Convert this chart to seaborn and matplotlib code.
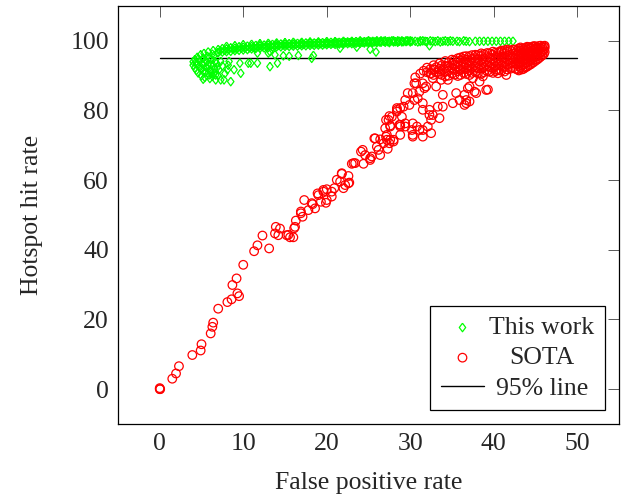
import matplotlib
matplotlib.use("Agg")
import matplotlib.pyplot as plt
import seaborn as sns
import pandas as pd

# ---------------- data ----------------
x_ticks = [0, 10, 20, 30, 40, 50]
y_ticks = [0, 20, 40, 60, 80, 100]
legend_labels = ["This work", "SOTA", "95% line"]

line_x = [0, 50]
line_y = [95, 95]

sota_low = [
    (0.0, 0.0), (0.0, 0.3), (0.05, 0.0), (1.5, 3.0), (1.95, 4.5), (2.3, 6.6),
    (3.9, 9.8), (4.9, 11.1), (5.0, 12.9), (6.1, 16.0), (6.3, 17.9), (6.4, 19.1),
    (7.0, 23.1), (8.1, 25.0), (8.6, 25.8), (9.3, 27.5), (9.5, 26.7), (8.7, 29.9),
    (9.2, 31.8), (10.0, 35.7), (11.3, 39.6), (11.7, 41.3), (12.3, 44.1), (13.1, 40.4),
    (13.9, 46.6), (14.4, 46.1), (13.8, 44.7), (14.2, 44.2), (15.2, 44.2), (15.6, 43.6),
]
sota_mid = [
    (16.0, 43.6), (15.4, 44.3), (16.1, 46.2), (16.2, 46.6), (16.3, 48.4), (17.1, 49.5),
    (16.9, 51.0), (16.9, 50.5), (17.3, 54.3), (17.8, 51.4), (18.2, 53.4), (18.3, 53.1),
    (18.6, 51.9), (18.9, 56.2), (19.0, 55.7), (19.3, 53.8), (19.6, 56.7), (19.6, 57.2),
    (19.9, 53.5), (20.0, 57.4), (20.0, 54.3), (20.6, 55.3), (20.6, 56.7), (20.9, 57.7),
    (21.2, 60.1), (21.6, 59.6), (21.8, 61.8), (21.8, 62.0), (22.0, 57.7), (22.2, 58.6),
    (22.6, 61.2), (22.6, 59.1), (22.7, 59.3), (23.0, 64.7), (23.2, 64.9), (23.4, 64.9),
    (24.1, 68.2), (24.3, 68.7), (24.4, 64.7), (24.6, 67.2), (25.2, 65.8), (25.2, 66.3),
    (25.4, 66.8), (25.7, 72.0), (25.8, 72.0), (26.2, 68.7), (26.4, 71.7), (26.4, 67.2),
    (26.8, 70.6), (27.2, 73.0), (27.2, 71.6), (27.3, 69.0), (27.5, 70.6), (28.0, 71.1),
    (28.0, 71.6), (27.1, 77.3), (27.4, 77.3), (27.5, 78.4), (27.6, 75.7), (27.8, 78.2),
    (28.4, 80.2), (28.4, 80.7), (28.7, 75.9), (28.8, 75.9),
]
sota_fan = [
    (26.0, 69.6), (27.0, 74.9), (27.1, 72.5), (27.6, 75.4), (27.6, 71.6), (28.4, 79.7),
    (28.8, 80.7), (29.0, 78.2), (28.8, 75.4), (28.8, 73.0), (29.2, 81.1), (29.4, 83.0),
    (29.4, 76.3), (29.4, 75.4), (29.7, 85.0), (29.9, 81.6), (30.2, 74.4), (30.3, 73.0),
    (30.3, 72.5), (30.3, 76.3), (30.3, 85.0), (30.5, 87.8), (30.5, 83.0), (30.7, 87.8),
    (30.8, 75.4), (30.9, 83.5), (31.1, 74.4), (31.1, 85.4), (31.5, 72.5), (31.5, 74.4),
    (31.5, 80.2), (31.5, 82.1), (31.5, 87.8), (31.7, 86.4), (31.9, 86.9), (32.1, 75.4),
    (32.3, 80.2), (32.3, 78.7), (32.5, 77.3), (32.5, 73.5), (32.5, 90.7), (32.7, 78.7),
    (32.7, 89.3), (32.9, 91.7), (33.1, 86.9), (33.3, 81.1), (33.5, 77.8), (33.7, 88.8),
    (33.9, 84.5), (33.9, 81.1), (34.5, 88.8), (35.1, 82.1), (35.5, 85.0), (35.9, 83.0),
    (35.9, 91.7), (36.5, 84.5), (36.5, 81.6), (36.7, 82.1), (36.7, 83.0), (36.9, 86.4),
    (37.1, 86.9), (37.1, 82.6), (37.5, 89.3), (37.7, 85.4), (37.9, 85.0), (38.3, 88.3),
    (38.7, 89.8), (39.1, 85.9), (39.3, 86.0), (40.3, 91.7), (40.5, 90.7), (41.5, 90.2),
]
sota_band = [
    (30.6, 89.5), (31.2, 90.6), (31.6, 91.4), (32.0, 91.0), (32.0, 92.3), (32.8, 90.2),
    (32.8, 91.8), (32.8, 93.0), (33.5, 90.5), (33.5, 92.0), (33.5, 93.5), (34.2, 89.8),
    (34.2, 91.2), (34.2, 92.8), (34.2, 94.2), (35.0, 90.6), (35.0, 92.0), (35.0, 93.4),
    (35.0, 94.6), (35.7, 89.9), (35.7, 91.3), (35.7, 92.7), (35.7, 94.0), (35.7, 95.0),
    (36.4, 90.8), (36.4, 92.2), (36.4, 93.6), (36.4, 94.8), (36.4, 95.5), (37.1, 90.2),
    (37.1, 91.6), (37.1, 93.0), (37.1, 94.3), (37.1, 95.6), (37.8, 91.0), (37.8, 92.4),
    (37.8, 93.8), (37.8, 95.0), (37.8, 96.0), (38.5, 90.5), (38.5, 92.0), (38.5, 93.3),
    (38.5, 94.6), (38.5, 95.7), (38.5, 96.4), (39.2, 91.3), (39.2, 92.7), (39.2, 94.0),
    (39.2, 95.3), (39.2, 96.5), (39.9, 90.8), (39.9, 92.2), (39.9, 93.6), (39.9, 94.9),
    (39.9, 96.0), (39.9, 96.9), (40.6, 91.6), (40.6, 93.0), (40.6, 94.4), (40.6, 95.6),
    (40.6, 96.8), (41.3, 91.2), (41.3, 92.6), (41.3, 94.0), (41.3, 95.3), (41.3, 96.5),
    (41.3, 97.3), (42.0, 92.0), (42.0, 93.4), (42.0, 94.8), (42.0, 96.0), (42.0, 97.2),
]
sota_band_b = [
    (32.4, 90.6), (32.4, 91.9), (33.1, 90.9), (33.1, 92.4), (33.8, 90.2), (33.8, 91.6),
    (33.8, 93.0), (34.6, 90.0), (34.6, 91.4), (34.6, 92.8), (34.6, 93.8), (35.3, 90.3),
    (35.3, 91.7), (35.3, 93.1), (35.3, 94.4), (36.0, 90.2), (36.0, 91.6), (36.0, 93.0),
    (36.0, 94.4), (36.0, 95.2), (36.7, 90.5), (36.7, 91.9), (36.7, 93.3), (36.7, 94.6),
    (36.7, 95.6), (37.4, 90.8), (37.4, 92.2), (37.4, 93.6), (37.4, 94.9), (37.4, 95.9),
    (38.1, 90.7), (38.1, 92.1), (38.1, 93.5), (38.1, 94.8), (38.1, 95.9), (38.8, 91.0),
    (38.8, 92.4), (38.8, 93.7), (38.8, 95.0), (38.8, 96.2), (39.5, 91.1), (39.5, 92.5),
    (39.5, 93.9), (39.5, 95.2), (39.5, 96.4), (40.2, 91.3), (40.2, 92.7), (40.2, 94.1),
    (40.2, 95.4), (40.2, 96.6), (40.9, 91.4), (40.9, 92.8), (40.9, 94.2), (40.9, 95.5),
    (40.9, 96.8), (40.9, 97.2), (41.6, 91.8), (41.6, 93.2), (41.6, 94.6), (41.6, 95.8),
    (41.6, 96.9), (41.6, 97.5), (42.3, 92.3), (42.3, 93.7), (42.3, 95.1), (42.3, 96.3),
    (42.3, 97.5),
]
sota_blob = [
    (42.6, 92.0), (42.6, 93.5), (42.6, 95.0), (42.6, 96.5), (42.6, 97.5), (43.0, 91.5),
    (43.0, 92.8), (43.0, 94.1), (43.0, 95.4), (43.0, 96.7), (43.0, 97.8), (43.4, 91.8),
    (43.4, 93.0), (43.4, 94.2), (43.4, 95.4), (43.4, 96.6), (43.4, 97.8), (43.8, 92.4),
    (43.8, 93.6), (43.8, 94.8), (43.8, 96.0), (43.8, 97.2), (43.8, 98.0), (44.2, 93.0),
    (44.2, 94.2), (44.2, 95.4), (44.2, 96.6), (44.2, 97.8), (44.2, 98.2), (44.6, 93.6),
    (44.6, 94.8), (44.6, 96.0), (44.6, 97.2), (44.6, 98.3), (45.0, 94.3), (45.0, 95.5),
    (45.0, 96.7), (45.0, 97.8), (45.0, 98.4), (45.4, 95.0), (45.4, 96.2), (45.4, 97.4),
    (45.4, 98.5), (45.8, 95.8), (45.8, 97.0), (45.8, 98.2), (46.1, 96.8), (46.1, 98.0),
    (46.1, 98.6),
]
sota_blob_b = [
    (42.8, 91.8), (42.8, 93.2), (42.8, 94.6), (42.8, 96.0), (42.8, 97.2), (43.2, 92.3),
    (43.2, 93.6), (43.2, 94.8), (43.2, 96.0), (43.2, 97.2), (43.2, 98.1), (43.6, 92.0),
    (43.6, 93.2), (43.6, 94.4), (43.6, 95.6), (43.6, 96.8), (43.6, 97.6), (44.0, 92.6),
    (44.0, 93.8), (44.0, 95.0), (44.0, 96.2), (44.0, 97.4), (44.0, 98.3), (44.4, 93.2),
    (44.4, 94.4), (44.4, 95.6), (44.4, 96.8), (44.4, 98.0), (44.8, 93.9), (44.8, 95.1),
    (44.8, 96.3), (44.8, 97.5), (44.8, 98.5), (45.2, 94.6), (45.2, 95.8), (45.2, 97.0),
    (45.2, 98.1), (45.6, 95.4), (45.6, 96.6), (45.6, 97.8), (45.6, 98.6), (46.0, 96.2),
    (46.0, 97.4), (46.0, 98.4),
]

ours_curl = [
    (4.0, 93.0), (4.0, 94.0), (4.2, 92.2), (4.2, 94.6), (4.4, 91.5), (4.4, 93.4),
    (4.5, 95.3), (4.6, 90.8), (4.7, 92.6), (4.8, 94.2), (4.9, 96.0), (5.0, 90.0),
    (5.0, 91.8), (5.1, 93.4), (5.2, 95.0), (5.3, 96.4), (5.4, 89.5), (5.5, 91.0),
    (5.5, 92.5), (5.6, 94.0), (5.7, 95.6), (5.8, 96.8), (5.9, 90.2), (6.0, 89.2),
    (6.0, 91.6), (6.1, 93.2), (6.2, 94.7), (6.3, 96.2), (6.4, 97.2), (6.5, 90.6),
    (6.6, 92.0), (6.7, 88.8), (6.8, 93.6), (6.9, 96.6), (7.0, 97.5), (6.4, 93.0),
    (6.9, 92.4), (7.5, 92.8), (7.8, 90.6), (8.2, 93.0), (7.0, 90.0), (5.8, 93.0),
    (6.3, 89.8), (5.2, 89.0), (4.3, 93.8), (4.6, 94.8), (4.9, 92.0), (5.2, 91.2),
    (5.3, 93.8), (5.7, 92.2), (5.9, 95.2), (6.2, 90.6), (6.5, 95.8), (6.6, 94.0),
]
ours_band = [
    (7.0, 96.6), (7.5, 96.8), (7.5, 97.8), (8.0, 96.9), (8.0, 97.7), (8.0, 98.4),
    (8.5, 97.0), (8.5, 98.0), (9.0, 97.2), (9.0, 97.9), (9.0, 98.6), (9.5, 97.3),
    (9.5, 98.3), (10.0, 97.4), (10.0, 98.2), (10.0, 98.9), (10.5, 97.5), (10.5, 98.5),
    (11.0, 97.7), (11.0, 98.4), (11.0, 99.0), (11.5, 97.8), (11.5, 98.7), (12.0, 97.9),
    (12.0, 98.6), (12.0, 99.2), (12.5, 98.0), (12.5, 98.8), (13.0, 98.1), (13.0, 98.8),
    (13.0, 99.3), (13.5, 98.2), (13.5, 99.0), (14.0, 98.3), (14.0, 98.9), (14.0, 99.4),
    (14.5, 98.3), (14.5, 99.1), (15.0, 98.4), (15.0, 99.0), (15.0, 99.5), (15.5, 98.4),
    (15.5, 99.2), (16.0, 98.5), (16.0, 99.1), (16.0, 99.6), (16.5, 98.5), (16.5, 99.3),
    (17.0, 98.6), (17.0, 99.2), (17.0, 99.6), (17.5, 98.6), (17.5, 99.4), (18.0, 98.7),
    (18.0, 99.3), (18.0, 99.7), (18.5, 98.7), (18.5, 99.4), (19.0, 98.8), (19.0, 99.4),
    (19.0, 99.7), (19.5, 98.8), (19.5, 99.5), (20.0, 98.9), (20.0, 99.4), (20.0, 99.8),
    (20.5, 99.0), (20.5, 99.6), (21.0, 99.0), (21.0, 99.5), (21.0, 99.8), (21.5, 99.1),
    (21.5, 99.6), (22.0, 99.1), (22.0, 99.6), (22.0, 99.9), (22.5, 99.2), (22.5, 99.7),
    (23.0, 99.2), (23.0, 99.7), (23.0, 99.9), (23.5, 99.3), (23.5, 99.8), (24.0, 99.3),
    (24.0, 99.8), (24.0, 100.0), (24.5, 99.4), (24.5, 99.8), (25.0, 99.4), (25.0, 99.9),
    (25.0, 100.0), (25.5, 99.5), (25.5, 99.9), (26.0, 99.5), (26.0, 99.9), (26.0, 100.0),
    (26.5, 99.6), (26.5, 100.0), (27.0, 99.6), (27.0, 100.0), (27.5, 99.5), (27.5, 99.9),
    (28.0, 99.7), (28.0, 100.0), (28.5, 99.6), (28.5, 100.0), (29.0, 99.7), (29.0, 100.0),
    (29.5, 99.8), (29.5, 100.0), (30.0, 99.7), (30.0, 100.0), (30.6, 99.9), (31.2, 99.8),
    (31.2, 100.0), (31.8, 99.9), (32.4, 100.0), (33.0, 99.8), (33.3, 100.0), (33.9, 99.9),
    (34.8, 100.0), (35.6, 99.9), (36.4, 100.0), (37.1, 99.8), (26.3, 99.7), (26.8, 99.9),
    (27.3, 99.8), (27.8, 100.0), (28.2, 99.8), (28.7, 99.9), (29.2, 99.8), (29.7, 100.0),
    (30.2, 99.9), (30.9, 99.7), (31.5, 100.0), (32.0, 99.8), (32.7, 99.9), (33.6, 99.7),
    (34.2, 100.0), (34.5, 99.8), (35.1, 99.9), (35.9, 99.8), (36.7, 99.9), (37.8, 99.9),
    (38.3, 99.9), (38.8, 99.9), (39.3, 99.9), (39.8, 99.9), (40.3, 99.9), (40.8, 99.9),
    (41.3, 99.9), (41.8, 99.9), (42.3, 99.9),
]
ours_band_mid = [
    (7.25, 97.2), (7.75, 97.3), (8.25, 97.5), (8.75, 97.6), (9.25, 97.7), (9.75, 97.9),
    (10.25, 98.0), (10.75, 98.0), (11.25, 98.1), (11.75, 98.3), (12.25, 98.3), (12.75, 98.4),
    (13.25, 98.6), (13.75, 98.6), (14.25, 98.7), (14.75, 98.8), (15.25, 98.8), (15.75, 98.9),
    (16.25, 99.0), (16.75, 99.0), (17.25, 99.0), (17.75, 99.1), (18.25, 99.1), (18.75, 99.2),
    (19.25, 99.2), (19.75, 99.2), (20.25, 99.3), (20.75, 99.3), (21.25, 99.4), (21.75, 99.4),
    (22.25, 99.5), (22.75, 99.5), (23.25, 99.5), (23.75, 99.6), (24.25, 99.6), (24.75, 99.7),
    (25.25, 99.7), (25.75, 99.7),
]
ours_scatter = [
    (6.1, 91.2), (6.7, 90.2), (7.1, 91.7), (7.3, 94.1), (7.3, 88.8), (7.7, 88.8),
    (8.1, 91.7), (8.3, 94.1), (8.5, 88.3), (8.9, 91.7), (9.6, 93.6), (9.7, 90.7),
    (10.6, 93.6), (10.9, 93.6), (11.7, 93.6), (11.7, 96.5), (13.0, 96.5), (13.2, 92.6),
    (13.2, 96.9), (13.8, 96.0), (14.1, 93.6), (14.8, 95.7), (15.5, 95.6), (16.6, 95.8),
    (18.2, 95.0), (18.4, 95.8), (21.6, 97.9), (23.6, 98.2), (25.2, 97.6), (25.9, 96.8),
    (32.3, 98.6),
]

# ---------------- build tables ----------------
sota = pd.DataFrame(sota_low + sota_mid + sota_fan + sota_band + sota_band_b
                    + sota_blob + sota_blob_b, columns=["x", "y"])
ours = pd.DataFrame(ours_curl + ours_band + ours_band_mid + ours_scatter,
                    columns=["x", "y"])
line = pd.DataFrame({"x": line_x, "y": line_y})

# ---------------- style ----------------
sns.set_theme(style="white")
plt.rcParams["font.family"] = ["Liberation Serif", "DejaVu Serif"]
plt.rcParams["mathtext.fontset"] = "stix"
FS = 18.5

fig = plt.figure(figsize=(6.27, 4.95), dpi=100)
ax = fig.add_axes([118 / 627, 1 - 424 / 495, (619 - 118) / 627, (424 - 6) / 495])

green = (0.0, 1.0, 0.0)
red = (1.0, 0.0, 0.0)
diamond = [(0, 1), (0.75, 0), (0, -1), (-0.75, 0), (0, 1)]

sns.lineplot(data=line, x="x", y="y", color="black", linewidth=1.0,
             ax=ax, label=legend_labels[2], zorder=1)
sns.scatterplot(data=ours, x="x", y="y", marker=diamond, s=38, color=green,
                facecolor="none", edgecolor=green, linewidth=0.9,
                ax=ax, label=legend_labels[0], zorder=2)
sns.scatterplot(data=sota, x="x", y="y", marker="o", s=38, color=red,
                facecolor="none", edgecolor=red, linewidth=0.9,
                ax=ax, label=legend_labels[1], zorder=3)

ax.set_xlim(-5, 55)
ax.set_ylim(-10, 110)
ax.set_xticks(x_ticks)
ax.set_yticks(y_ticks)
ax.set_xlabel("False positive rate", fontsize=FS, labelpad=12)
ax.set_ylabel("Hotspot hit rate", fontsize=FS, labelpad=20)
ax.tick_params(direction="in", length=8, width=0.7, color="0.35",
               top=True, right=True, labelsize=FS, pad=6.5)
for sp in ax.spines.values():
    sp.set_color("black")
    sp.set_linewidth(0.9)
    sp.set_visible(True)

handles, labels = ax.get_legend_handles_labels()
order = [labels.index(l) for l in legend_labels]
leg = ax.legend([handles[i] for i in order], [labels[i] for i in order],
                loc="lower right", fontsize=FS, frameon=True, fancybox=False,
                edgecolor="black", framealpha=1, scatterpoints=1,
                handlelength=1.7, handletextpad=0.2, labelspacing=0.28,
                borderpad=0.4, borderaxespad=0.55)
leg.get_frame().set_linewidth(0.9)

# centre the legend texts like pgfplots does
fig.canvas.draw()
texts = leg.get_texts()
widths = [t.get_window_extent().width for t in texts]
wmax = max(widths)
for t, w in zip(texts, widths):
    t.set_x((wmax - w) / 2)

fig.savefig("out.png", dpi=100)
